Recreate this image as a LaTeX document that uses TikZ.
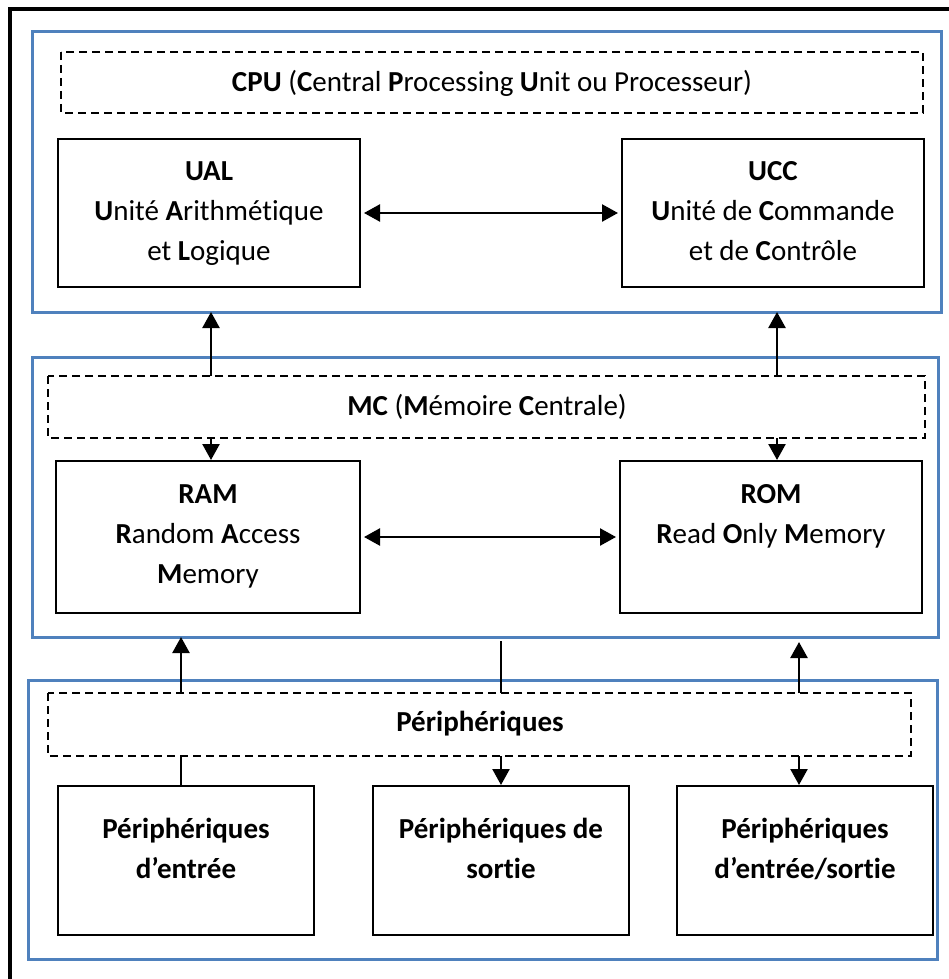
\documentclass[tikz,border=0pt]{standalone}
\usepackage{fontspec}
\setmainfont{Carlito}[Ligatures=NoCommon]
\usetikzlibrary{arrows.meta}
\definecolor{secblue}{RGB}{79,129,189}
\tikzset{
  section/.style={draw=secblue, line width=3pt},
  headbox/.style={draw=black, line width=1.6pt, dash pattern=on 8pt off 5pt},
  unitbox/.style={draw=black, line width=2pt},
  label/.style={font=\fontsize{29}{40}\selectfont, align=center, inner sep=0pt},
  link/.style={draw=black, line width=2.4pt},
  tip/.style={Triangle[length=16pt,width=17pt]},
  arr/.style={link, -{Triangle[length=16pt,width=17pt]}},
  biarr/.style={link, {Triangle[length=16pt,width=17pt]}-{Triangle[length=16pt,width=17pt]}},
}
\begin{document}
\begin{tikzpicture}[x=1pt,y=-1pt]
\useasboundingbox (0,0) rectangle (949,979);
% outer frame (runs off the page at right and bottom)
\draw[line width=3.5pt] (10,9) rectangle (960,990);

% ---- CPU section
\draw[section] (32,32) rectangle (941,312);
\draw[headbox] (61,52) rectangle (923,113);
\node[label] (cpu) at (492,83) {\textbf{CPU} (\textbf{C}entral \textbf{P}rocessing \textbf{U}nit ou Processeur)};
\node[unitbox, minimum width=302pt, minimum height=148pt, anchor=north west] (ual) at (57,138) {};
\node[unitbox, minimum width=302pt, minimum height=148pt, anchor=north west] (ucc) at (621,138) {};
\node[label, anchor=north] at ([yshift=-23pt]ual.north) {\textbf{UAL}\\\textbf{U}nité \textbf{A}rithmétique\\et \textbf{L}ogique};
\node[label, anchor=north] at ([yshift=-23pt]ucc.north) {\textbf{UCC}\\\textbf{U}nité de \textbf{C}ommande\\et de \textbf{C}ontrôle};
\draw[biarr, shorten <=3pt, shorten >=3pt] (ual.east) -- (ucc.west);

% ---- MC section
\draw[section] (32,357) rectangle (938,637);
\draw[headbox] (48,376) rectangle (925,438);
\node[label] (mc) at (487,407) {\textbf{MC} (\textbf{M}émoire \textbf{C}entrale)};
\node[unitbox, minimum width=304pt, minimum height=152pt, anchor=north west] (ram) at (55,460) {};
\node[unitbox, minimum width=302pt, minimum height=152pt, anchor=north west] (rom) at (619,460) {};
\node[label, anchor=north] at ([yshift=-24pt]ram.north) {\textbf{RAM}\\\textbf{R}andom \textbf{A}ccess\\\textbf{M}emory};
\node[label, anchor=north] at ([yshift=-24pt]rom.north) {\textbf{ROM}\\\textbf{R}ead \textbf{O}nly \textbf{M}emory};
\draw[biarr, shorten <=3pt, shorten >=3pt] (ram.east |- 0,537) coordinate (ramr) -- (rom.west |- 0,537) coordinate (roml);

% ---- peripherals section
\draw[section] (28,680) rectangle (937,959);
\draw[headbox] (48,693) rectangle (911,756);
\node[label] (per) at (480,724) {\textbf{Périphériques}};
\node[unitbox, minimum width=256pt, minimum height=149pt, anchor=north west] (pin) at (57,785) {};
\node[unitbox, minimum width=256pt, minimum height=149pt, anchor=north west] (pout) at (372,785) {};
\node[unitbox, minimum width=256pt, minimum height=149pt, anchor=north west] (pio) at (676,785) {};
\node[label, anchor=north] at ([yshift=-33pt]pin.north) {\textbf{Périphériques}\\\textbf{d’entrée}};
\node[label, anchor=north] at ([yshift=-33pt]pout.north) {\textbf{Périphériques de}\\\textbf{sortie}};
\node[label, anchor=north] at ([yshift=-33pt]pio.north) {\textbf{Périphériques}\\\textbf{d’entrée/sortie}};

% ---- links between sections
\coordinate (mcA) at (211,376); \coordinate (cpuA) at (211,312);
\coordinate (mcB) at (777,376); \coordinate (cpuB) at (777,312);
\draw[arr] (mcA) -- (cpuA);
\draw[arr] (mcB) -- (cpuB);
\coordinate (mcC) at (211,438); \coordinate (mcD) at (777,438);
\draw[arr] (mcC) -- (ram.north -| mcC);
\draw[arr] (mcD) -- (rom.north -| mcD);

\coordinate (pA) at (181,693); \coordinate (mA) at (181,637);
\coordinate (pB) at (501,693); \coordinate (mB) at (501,641);
\coordinate (pC) at (799,693); \coordinate (mC) at (799,642);
\draw[arr] (pA) -- (mA);
\draw[link] (pB) -- (mB);
\draw[arr] (pC) -- (mC);
\coordinate (qA) at (181,756); \coordinate (qB) at (501,756); \coordinate (qC) at (799,756);
\draw[link] (qA) -- (pin.north -| qA);
\draw[arr] (qB) -- (pout.north -| qB);
\draw[arr] (qC) -- (pio.north -| qC);
\end{tikzpicture}
\end{document}
